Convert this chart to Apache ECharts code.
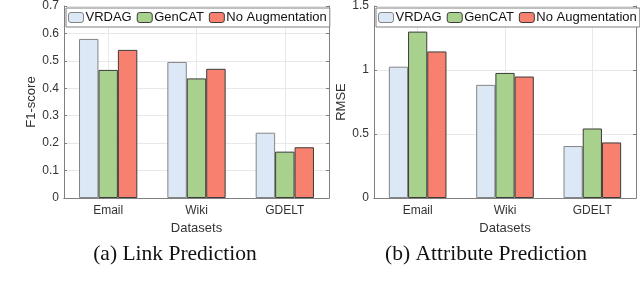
<!DOCTYPE html>
<html>
<head>
<meta charset="utf-8">
<script src="https://cdn.jsdelivr.net/npm/echarts@6/dist/echarts.min.js"></script>
<style>html,body{margin:0;padding:0;background:#fff}#c{width:640px;height:285px}</style>
</head>
<body>
<div id="c"></div>
<script>
var categories = ['Email', 'Wiki', 'GDELT'];
var seriesNames = ['VRDAG', 'GenCAT', 'No Augmentation'];
var linkVRDAG = [0.580, 0.496, 0.238];
var linkGenCAT = [0.467, 0.436, 0.169];
var linkNoAug = [0.540, 0.471, 0.185];
var attrVRDAG = [1.026, 0.884, 0.406];
var attrGenCAT = [1.300, 0.977, 0.543];
var attrNoAug = [1.145, 0.949, 0.434];
var linkTicks = [0, 0.1, 0.2, 0.3, 0.4, 0.5, 0.6, 0.7];
var attrTicks = [0, 0.5, 1, 1.5];
var captions = ['(a) Link Prediction', '(b) Attribute Prediction'];

var colors = ['#dce8f5', '#a9d18e', '#f7806e'];
var edges = ['#858585', '#3c3c3c', '#3c3c3c'];
var font = 'Liberation Sans, Arial, sans-serif';
var axisCol = '#808080';
var txtCol = '#333';

function xAxes(gi) {
  return [{
    type: 'category', gridIndex: gi, data: categories, position: 'bottom',
    axisLine: {lineStyle: {color: axisCol}},
    axisTick: {inside: true, alignWithLabel: true, length: 3, lineStyle: {color: axisCol}},
    axisLabel: {color: txtCol, fontFamily: font, fontSize: 12, margin: 7},
    splitLine: {show: true, alignWithLabel: true, lineStyle: {color: '#e8e8e8'}},
    name: 'Datasets', nameLocation: 'middle', nameGap: 22,
    nameTextStyle: {color: txtCol, fontFamily: font, fontSize: 13}
  }, {
    type: 'category', gridIndex: gi, data: categories, position: 'top',
    axisLine: {lineStyle: {color: axisCol}},
    axisTick: {inside: true, alignWithLabel: true, length: 3, lineStyle: {color: axisCol}},
    axisLabel: {show: false}, splitLine: {show: false}
  }];
}
function yAxes(gi, ticks, name) {
  var mx = ticks[ticks.length - 1];
  var iv = ticks[1] - ticks[0];
  return [{
    type: 'value', gridIndex: gi, min: 0, max: mx, interval: iv, position: 'left',
    axisLine: {show: true, lineStyle: {color: axisCol}},
    axisTick: {show: true, inside: true, length: 3, lineStyle: {color: axisCol}},
    axisLabel: {color: txtCol, fontFamily: font, fontSize: 12, margin: 5,
      formatter: function (v) { return String(+v.toFixed(2)); }},
    splitLine: {show: true, lineStyle: {color: '#e8e8e8'}},
    name: name, nameLocation: 'middle', nameGap: 23,
    nameTextStyle: {color: txtCol, fontFamily: font, fontSize: 13}
  }, {
    type: 'value', gridIndex: gi, min: 0, max: mx, interval: iv, position: 'right',
    axisLine: {show: true, lineStyle: {color: axisCol}},
    axisTick: {show: true, inside: true, length: 3, lineStyle: {color: axisCol}},
    axisLabel: {show: false}, splitLine: {show: false}
  }];
}
function mkSeries(gi, arrs) {
  return arrs.map(function (d, i) {
    return {
      type: 'bar', name: seriesNames[i], xAxisIndex: gi * 2, yAxisIndex: gi * 2,
      data: d, barGap: '0%', barCategoryGap: '34%',
      itemStyle: {color: colors[i], borderColor: edges[i], borderWidth: 1},
      emphasis: {disabled: true}
    };
  });
}
function mkLegend(left) {
  return {
    left: left, top: 8, orient: 'horizontal',
    data: seriesNames.map(function (n, i) {
      return {name: n, itemStyle: {color: colors[i], borderColor: edges[i], borderWidth: 1}};
    }),
    itemWidth: 15, itemHeight: 10, itemGap: 5,
    padding: [3, 3, 3, 2],
    backgroundColor: '#fff', borderColor: '#808080', borderWidth: 1, borderRadius: 0,
    textStyle: {color: '#111', fontFamily: font, fontSize: 13, padding: [0, 0, 0, -3]},
    selectedMode: false
  };
}

var chart = echarts.init(document.getElementById('c'), null, {renderer: 'canvas'});
chart.setOption({
  animation: false,
  textStyle: {fontFamily: font},
  grid: [
    {left: 64, top: 5, width: 265, height: 193},
    {left: 374, top: 5, width: 262, height: 193}
  ],
  xAxis: xAxes(0).concat(xAxes(1)),
  yAxis: yAxes(0, linkTicks, 'F1-score').concat(yAxes(1, attrTicks, 'RMSE')),
  legend: [mkLegend(66), mkLegend(376)],
  title: [
    {text: captions[0], left: 170, top: 238, textAlign: 'center',
     textStyle: {fontFamily: 'Liberation Serif, Times New Roman, serif', fontWeight: 'normal', fontSize: 21.5, color: '#111'}},
    {text: captions[1], left: 481, top: 238, textAlign: 'center',
     textStyle: {fontFamily: 'Liberation Serif, Times New Roman, serif', fontWeight: 'normal', fontSize: 21.5, color: '#111'}}
  ],
  series: mkSeries(0, [linkVRDAG, linkGenCAT, linkNoAug]).concat(mkSeries(1, [attrVRDAG, attrGenCAT, attrNoAug]))
});
</script>
</body>
</html>
